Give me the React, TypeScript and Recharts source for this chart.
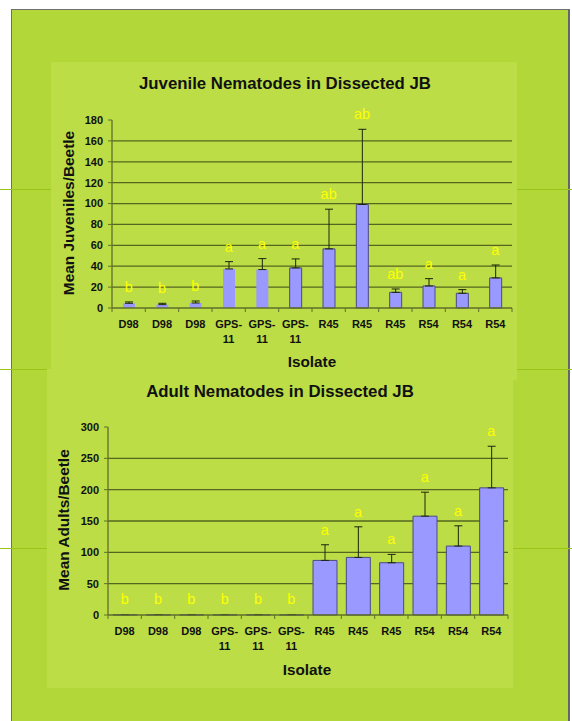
import { Bar, Cell, CartesianGrid, ComposedChart, ErrorBar, LabelList, Line, XAxis, YAxis } from 'recharts';

// two stacked bar charts (slide screenshot): mean nematodes per beetle by isolate,
// upward-only SE bars, significance letters in yellow over each bar.

const categories = ['D98', 'D98', 'D98', 'GPS-11', 'GPS-11', 'GPS-11', 'R45', 'R45', 'R45', 'R54', 'R54', 'R54'];

const juvenileMeans = [4.5, 3.2, 4.8, 37.4, 36.8, 38.4, 56.6, 99.1, 15, 21.1, 14.1, 28.8];
const juvenileErrors = [1.3, 1.3, 1.9, 7, 10.5, 8.6, 38, 72, 3.2, 7, 3.5, 12.4];
const juvenileLetters = ['b', 'b', 'b', 'a', 'a', 'a', 'ab', 'ab', 'ab', 'a', 'a', 'a'];
const juvenileTicks = [0, 20, 40, 60, 80, 100, 120, 140, 160, 180];

const adultMeans = [0.4, 0.4, 0.4, 0.4, 0.4, 0.4, 87.1, 91.9, 83.4, 157.7, 110, 202.9];
const adultErrors = [0.4, 0.4, 0.4, 0.4, 0.4, 0.4, 25, 48.8, 13.3, 38.3, 32.3, 66.4];
const adultLetters = ['b', 'b', 'b', 'b', 'b', 'b', 'a', 'a', 'a', 'a', 'a', 'a'];
const adultTicks = [0, 50, 100, 150, 200, 250, 300];

const FONT = "'Liberation Sans', Arial, sans-serif";
const GRID = '#56651f';
const AXIS = '#5f6e2a';
const BAR_FILL = '#9999ff';
const BAR_EDGE = '#4a4a86';
const PLOT_W = 400;

function IsolateTick(props: any) {
  const { x, y, payload, index, band } = props;
  const parts = String(payload.value).includes('-')
    ? [String(payload.value).split('-')[0] + '-', String(payload.value).split('-')[1]]
    : [String(payload.value)];
  return (
    <g>
      <line x1={x - band / 2} x2={x - band / 2} y1={y} y2={y + 4} stroke={AXIS} />
      {index === categories.length - 1 && (
        <line x1={x + band / 2} x2={x + band / 2} y1={y} y2={y + 4} stroke={AXIS} />
      )}
      {parts.map((p, i) => (
        <text
          key={i}
          x={x}
          y={y + 20 + i * 15}
          textAnchor="middle"
          fontFamily={FONT}
          fontSize={11}
          fontWeight={700}
          fill="#111"
        >
          {p}
        </text>
      ))}
    </g>
  );
}

function NematodeChart({
  means,
  errors,
  letters,
  ticks,
  height,
  barSize,
  plainBars,
}: {
  means: number[];
  errors: number[];
  letters: string[];
  ticks: number[];
  height: number;
  barSize: number;
  plainBars: number;
}) {
  const data = categories.map((isolate, i) => ({
    isolate,
    mean: means[i],
    err: [0, errors[i]] as [number, number],
    top: means[i] + errors[i],
    letter: letters[i],
  }));
  const band = PLOT_W / categories.length;
  const max = ticks[ticks.length - 1];
  return (
    <ComposedChart
      width={466}
      height={height}
      data={data}
      margin={{ top: 58, right: 5, left: 0, bottom: 0 }}
    >
      <CartesianGrid
        vertical={false}
        horizontalValues={ticks.slice(1, -1)}
        stroke={GRID}
        strokeWidth={1.3}
      />
      <XAxis
        dataKey="isolate"
        height={height - 58 - 188}
        interval={0}
        tickLine={false}
        tickSize={0}
        tickMargin={0}
        axisLine={{ stroke: AXIS, strokeWidth: 1.3 }}
        tick={<IsolateTick band={band} />}
      />
      <YAxis
        width={61}
        domain={[0, max]}
        ticks={ticks}
        interval={0}
        tickSize={4}
        tickMargin={5}
        axisLine={{ stroke: AXIS, strokeWidth: 1.3 }}
        tickLine={{ stroke: AXIS }}
        tick={{ fontSize: 11, fontWeight: 700, fill: '#111', fontFamily: FONT }}
      />
      <Bar dataKey="mean" barSize={barSize} fill={BAR_FILL} isAnimationActive={false}>
        {data.map((_, i) => (
          <Cell key={i} stroke={i < plainBars ? 'none' : BAR_EDGE} strokeWidth={1} />
        ))}
        <ErrorBar dataKey="err" width={4} stroke="#1e2410" strokeWidth={1} />
      </Bar>
      <Line dataKey="top" stroke="none" dot={false} activeDot={false} isAnimationActive={false}>
        <LabelList dataKey="letter" position="top" offset={10} fill="#ffff00" fontSize={14.5} fontFamily={FONT} />
      </Line>
    </ComposedChart>
  );
}

const textStyle = {
  position: 'absolute' as const,
  transform: 'translate(-50%, -50%)',
  whiteSpace: 'nowrap' as const,
  fontFamily: FONT,
  fontWeight: 700,
  color: '#111',
};

export default function App() {
  return (
    <div style={{ position: 'absolute', left: 0, top: 0, width: 572, height: 721, background: '#fff', overflow: 'hidden' }}>
      <div
        style={{
          position: 'absolute',
          left: 11,
          top: 9,
          width: 556,
          height: 730,
          background: '#b1d838',
          borderLeft: '1px solid #6f6f6f',
          borderTop: '1px solid #6f6f6f',
          borderRight: '2px solid #666',
        }}
      />
      {[189, 369, 548].map((y) => (
        <div key={y} style={{ position: 'absolute', left: 0, top: y, width: 572, height: 1, background: '#9ac41c' }} />
      ))}
      <div style={{ position: 'absolute', left: 51, top: 62, width: 466, height: 318, background: '#bcdd46' }}>
        <NematodeChart
          means={juvenileMeans}
          errors={juvenileErrors}
          letters={juvenileLetters}
          ticks={juvenileTicks}
          height={318}
          barSize={12}
          plainBars={5}
        />
      </div>
      <div style={{ position: 'absolute', left: 47, top: 369, width: 466, height: 319, background: '#bcdd46' }}>
        <NematodeChart
          means={adultMeans}
          errors={adultErrors}
          letters={adultLetters}
          ticks={adultTicks}
          height={319}
          barSize={24}
          plainBars={0}
        />
      </div>

      <div style={{ ...textStyle, left: 285, top: 84, fontSize: 16.8 }}>Juvenile Nematodes in Dissected JB</div>
      <div style={{ ...textStyle, left: 69, top: 213, fontSize: 15.4, transform: 'translate(-50%, -50%) rotate(-90deg)' }}>
        Mean Juveniles/Beetle
      </div>
      <div style={{ ...textStyle, left: 312, top: 362, fontSize: 15.3 }}>Isolate</div>

      <div style={{ ...textStyle, left: 280, top: 392, fontSize: 16.8 }}>Adult Nematodes in Dissected JB</div>
      <div style={{ ...textStyle, left: 64, top: 520, fontSize: 15.4, transform: 'translate(-50%, -50%) rotate(-90deg)' }}>
        Mean Adults/Beetle
      </div>
      <div style={{ ...textStyle, left: 307, top: 670, fontSize: 15.3 }}>Isolate</div>
    </div>
  );
}
